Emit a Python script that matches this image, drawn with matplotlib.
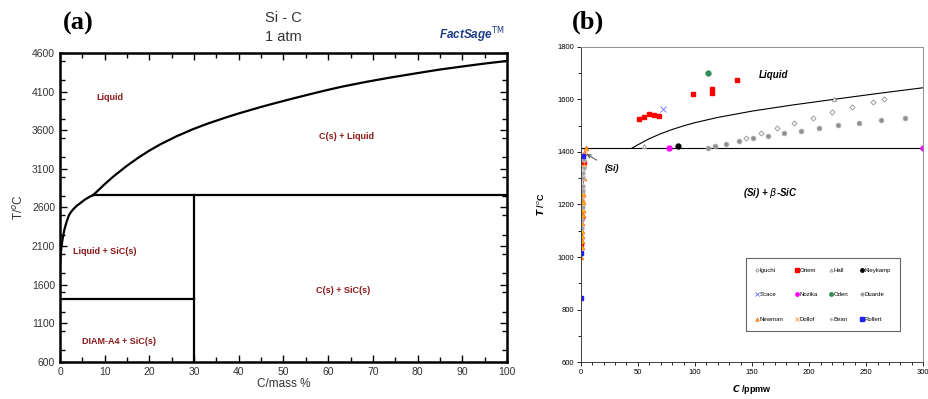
import numpy as np
import matplotlib.pyplot as plt
from matplotlib.ticker import MultipleLocator

plt.rcParams['font.family'] = ['Liberation Sans', 'DejaVu Sans']

# ---- (a) FactSage Si-C phase diagram ----
liq_low_c = [0, 0.1, 0.3, 0.6, 1.0, 1.5, 2.0, 2.5, 3.0, 3.8, 4.5, 5.5, 6.5, 7.45]
liq_low_t = [1870, 1950, 2080, 2200, 2320, 2420, 2500, 2545, 2580, 2625, 2655, 2700, 2735, 2762]
liq_high_c = [7.45, 10, 12, 14.9, 17.5, 20, 22.4, 26, 29.8, 33, 37.3, 40, 44.7, 48,
              52.2, 55, 59, 63, 68.5, 74, 79.7, 85, 91, 95, 100]
liq_high_t = [2762, 2902, 3004, 3137, 3244, 3337, 3416, 3520, 3615, 3685, 3769, 3818, 3897, 3949,
              4012, 4053, 4110, 4163, 4226, 4283, 4337, 4386, 4433, 4463, 4497]
t_peritectic = 2762
t_si_melt = 1414
c_sic = 30

region_labels = ["Liquid", "C(s) + Liquid", "Liquid + SiC(s)", "C(s) + SiC(s)", "DIAM-A4 + SiC(s)"]
region_c = [11.2, 64, 9.9, 63.4, 13.3]
region_t = [4030, 3513, 2028, 1532, 863]

# ---- (b) C solubility in Si, literature data ----
liquidus_c = [44.7, 50, 60, 70, 80, 90, 100, 120, 150, 185, 222, 260, 300]
liquidus_t = [1414, 1427, 1450, 1469, 1485, 1499, 1511, 1531, 1555, 1578, 1600, 1622, 1644]
solvus_c = [0, 0.3, 0.8, 1.5, 2.2, 3.0, 4.0, 4.5]
solvus_t = [870, 1000, 1100, 1200, 1280, 1350, 1400, 1414]

iguchi_c = [144.8, 158.2, 172.2, 186.8, 203.2, 219.8, 237.6, 256, 265.3]
iguchi_t = [1452, 1472, 1491, 1511, 1530, 1551, 1571, 1591, 1601]
ottem_c = [51.3, 55.4, 60.1, 64.2, 68.3, 98.1, 115.3, 115.3, 136.6, 2.5, 1.5, 1.0, 0.5]
ottem_t = [1525, 1532, 1545, 1541, 1535, 1620, 1640, 1622, 1673, 1360, 1250, 1150, 1050]
hall_c = [55.4, 222]
hall_t = [1421, 1600]
kleykamp_c = [85.5]
kleykamp_t = [1422]
scace_c = [72.3]
scace_t = [1563]
nozika_c = [77, 300]
nozika_t = [1415, 1415]
oden_c = [111.5]
oden_t = [1701]
duarde_c = [111.5, 117.6, 127.5, 138.9, 151.2, 164, 177.8, 192.7, 208.4, 225.3, 243.7, 263, 283.7]
duarde_t = [1416, 1421, 1430, 1441, 1452, 1462, 1471, 1481, 1491, 1501, 1511, 1521, 1530]
newman_c = [4.5, 3.2, 2.8, 2.5, 2.2, 2.0, 1.8, 1.6, 1.4, 1.2, 1.0, 0.9, 0.7, 0.5, 0.3]
newman_t = [1414, 1395, 1350, 1300, 1240, 1210, 1180, 1160, 1130, 1100, 1080, 1060, 1040, 1020, 1000]
dollof_c = [3.5, 2.0]
dollof_t = [1405, 1220]
bean_c = [3.0, 2.6, 2.4, 2.2, 2.0, 1.8, 1.6, 1.3, 1.1]
bean_t = [1370, 1340, 1320, 1300, 1270, 1250, 1190, 1140, 1110]
rollert_c = [2.3, 0.3, 0.0]
rollert_t = [1386, 1016, 846]

fig = plt.figure(figsize=(9.29, 3.99), dpi=100)

# ----------------- panel (a) -----------------
ax = fig.add_axes([0.0646, 0.0927, 0.4811, 0.7745])
lw = 1.6
ax.plot(liq_low_c, liq_low_t, color='black', lw=lw)
ax.plot(liq_high_c, liq_high_t, color='black', lw=lw)
ax.plot([liq_high_c[0], 100], [t_peritectic, t_peritectic], color='black', lw=lw)
ax.plot([0, c_sic], [t_si_melt, t_si_melt], color='black', lw=lw)
ax.plot([c_sic, c_sic], [600, t_peritectic], color='black', lw=lw)

for lab, c, t in zip(region_labels, region_c, region_t):
    ax.text(c, t, lab, color='#8b1a1a', fontsize=6.5, fontweight='bold',
            ha='center', va='center')

ax.set_xlim(0, 100)
ax.set_ylim(600, 4600)
ax.xaxis.set_major_locator(MultipleLocator(10))
ax.xaxis.set_minor_locator(MultipleLocator(5))
ax.yaxis.set_minor_locator(MultipleLocator(250))
ax.set_yticks(np.arange(600, 4601, 500))
ax.tick_params(which='both', direction='in', top=True, right=True,
               labelsize=7.5, labelcolor='#333333', width=1.0)
ax.tick_params(which='major', length=5)
ax.tick_params(which='minor', length=3.5)
for s in ax.spines.values():
    s.set_linewidth(1.8)
ax.set_xlabel('C/mass %', fontsize=8.5, color='#333333', labelpad=1)
ax.set_ylabel(r'T/$^o$C', fontsize=8.5, color='#333333', labelpad=4)

fig.text(0.305, 0.955, 'Si - C', fontsize=10.5, ha='center', va='center', color='#333333')
fig.text(0.305, 0.908, '1 atm', fontsize=10.5, ha='center', va='center', color='#333333')
fig.text(0.084, 0.94, '(a)', fontsize=19, fontweight='bold', family='Liberation Serif',
         ha='center', va='center')
fig.text(0.508, 0.912, r'FactSage$^{\rm TM}$', fontsize=8.5, fontweight='bold', style='italic',
         color='#1f3c88', ha='center', va='center')

# ----------------- panel (b) -----------------
bx = fig.add_axes([0.6251, 0.092, 0.3688, 0.791])
bx.plot(liquidus_c, liquidus_t, color='black', lw=0.8)
bx.plot([0, 300], [t_si_melt, t_si_melt], color='black', lw=0.8)
bx.plot(solvus_c, solvus_t, color='#808080', lw=0.8)

ms = 3.5
h = {}
h['Iguchi'], = bx.plot(iguchi_c, iguchi_t, ls='none', marker='D', ms=2.6, mfc='white',
                       mec='#909090', mew=0.6)
h['Ottem'], = bx.plot(ottem_c, ottem_t, ls='none', marker='s', ms=ms, color='#ff0000')
h['Hall'], = bx.plot(hall_c, hall_t, ls='none', marker='^', ms=3, mfc='white', mec='#909090',
                     mew=0.6)
h['Kleykamp'], = bx.plot(kleykamp_c, kleykamp_t, ls='none', marker='o', ms=ms, color='black')
h['Scace'], = bx.plot(scace_c, scace_t, ls='none', marker='x', ms=4, color='#6a6aff', mew=0.6)
h['Nozika'], = bx.plot(nozika_c, nozika_t, ls='none', marker='o', ms=ms, color='#ff00ff')
h['Oden'], = bx.plot(oden_c, oden_t, ls='none', marker='o', ms=ms, color='#2e8b57')
h['Duarde'], = bx.plot(duarde_c, duarde_t, ls='none', marker='o', ms=ms, mfc='#909090',
                       mec='#b0b0b0', mew=0.5)
h['Newman'], = bx.plot(newman_c, newman_t, ls='none', marker='^', ms=ms, mfc='#ffc000',
                       mec='#ff4000', mew=0.4)
h['Dollof'], = bx.plot(dollof_c, dollof_t, ls='none', marker='x', ms=3.5, color='#ffa060',
                       mew=0.7)
h['Bean'], = bx.plot(bean_c, bean_t, ls='none', marker='o', ms=3, mfc='#a0a0a0', mec='#d0d0d0',
                     mew=0.5)
h['Rollert'], = bx.plot(rollert_c, rollert_t, ls='none', marker='s', ms=ms, color='#1f1fff')

bx.annotate('(Si)', xy=(5.3, 1391), xytext=(27, 1335), fontsize=6.5, fontweight='bold',
            style='italic', ha='center', va='center',
            arrowprops=dict(arrowstyle='->', color='#333333', lw=0.6, shrinkA=4, shrinkB=0))
bx.text(168.7, 1692, 'Liquid', fontsize=7, fontweight='bold', style='italic',
        ha='center', va='center')
bx.text(165.8, 1245, r'(Si) + $\beta$-SiC', fontsize=7, fontweight='bold', style='italic',
        ha='center', va='center')

bx.set_xlim(0, 300)
bx.set_ylim(600, 1800)
bx.xaxis.set_major_locator(MultipleLocator(50))
bx.xaxis.set_minor_locator(MultipleLocator(10))
bx.yaxis.set_major_locator(MultipleLocator(200))
bx.yaxis.set_minor_locator(MultipleLocator(100))
bx.tick_params(which='both', direction='out', labelsize=5.5, width=0.6, pad=2)
bx.tick_params(which='major', length=3)
bx.tick_params(which='minor', length=2)
for side in ['top', 'right']:
    bx.spines[side].set_color('#909090')
for side in ['left', 'bottom']:
    bx.spines[side].set_color('#404040')
for s in bx.spines.values():
    s.set_linewidth(0.7)
bx.set_xlabel(r'$\bfit{C}$ /ppmw', fontsize=6.5, fontweight='bold', labelpad=5)
bx.set_ylabel(r'$\bfit{T}$ /$^o$C', fontsize=6.5, fontweight='bold', labelpad=8)

# legend fills column by column, so list entries column-wise to get the row layout
leg_order = ['Iguchi', 'Scace', 'Newman', 'Ottem', 'Nozika', 'Dollof',
             'Hall', 'Oden', 'Bean', 'Kleykamp', 'Duarde', 'Rollert']
leg = bx.legend([h[k] for k in leg_order], leg_order, ncol=4, loc='lower left',
                bbox_to_anchor=(0.473, 0.089, 0.469, 0.251),
                mode='expand', fontsize=4.3, frameon=True, fancybox=False,
                handlelength=0.6, handletextpad=0.1, labelspacing=3.2,
                borderpad=1.6, columnspacing=0.5, markerscale=0.7)
leg.get_frame().set_edgecolor('#404040')
leg.get_frame().set_linewidth(0.8)

fig.text(0.633, 0.945, '(b)', fontsize=19, fontweight='bold', family='Liberation Serif',
         ha='center', va='center')

fig.savefig('out.png', dpi=100)
